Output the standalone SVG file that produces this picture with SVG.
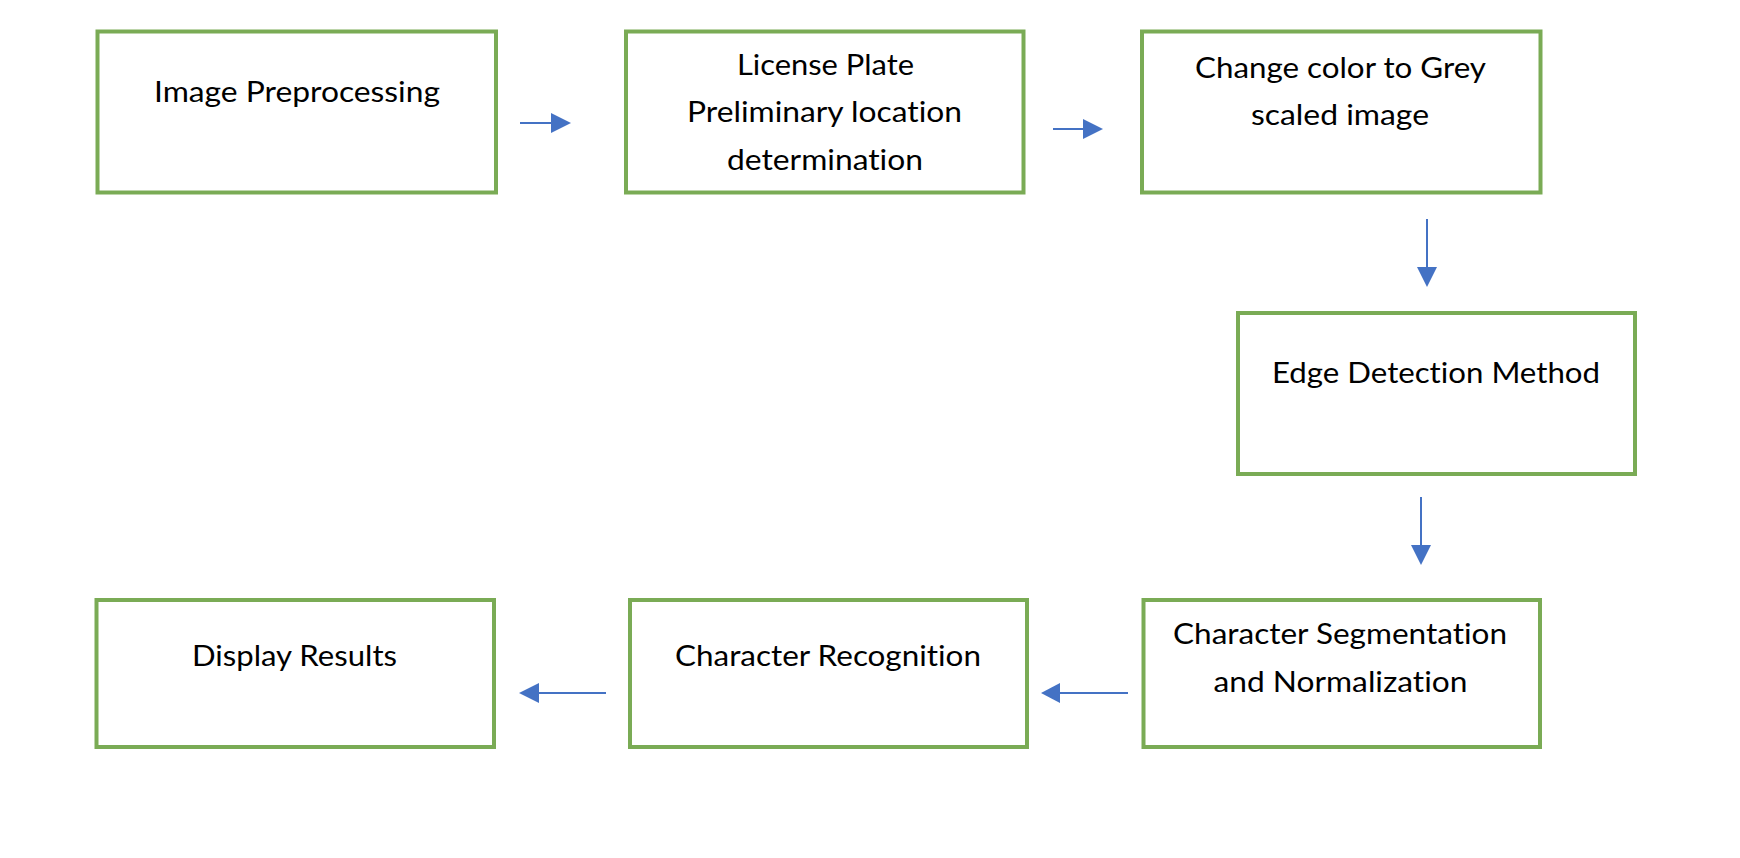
<svg xmlns="http://www.w3.org/2000/svg" width="1740" height="858" viewBox="0 0 1740 858">
<defs>
<style>
.box{fill:#ffffff;stroke:#7AAB55;stroke-width:4}
.lbl{font-family:Lato,"Liberation Sans",sans-serif;font-size:29px;fill:#000000;text-anchor:middle;font-variant-ligatures:none;font-feature-settings:"liga" 0,"clig" 0}
.conn line{stroke:#4472C4;stroke-width:2}
.conn polygon{fill:#4472C4}
</style>
</defs>
<rect width="1740" height="858" fill="#ffffff"/>
<g id="n1">
<rect class="box" x="97.5" y="31.5" width="398.5" height="161"/>
<text class="lbl" x="297" y="102" textLength="286" lengthAdjust="spacingAndGlyphs">Image Preprocessing</text>
</g>
<g id="n2">
<rect class="box" x="626" y="31.5" width="397.5" height="161"/>
<text class="lbl" x="825.5" y="75" textLength="177" lengthAdjust="spacingAndGlyphs">License Plate</text>
<text class="lbl" x="824.5" y="122" textLength="275" lengthAdjust="spacingAndGlyphs">Preliminary location</text>
<text class="lbl" x="825" y="170" textLength="196" lengthAdjust="spacingAndGlyphs">determination</text>
</g>
<g id="n3">
<rect class="box" x="1142" y="31.5" width="398.5" height="161"/>
<text class="lbl" x="1340.5" y="78" textLength="291" lengthAdjust="spacingAndGlyphs">Change color to Grey</text>
<text class="lbl" x="1340" y="125" textLength="178" lengthAdjust="spacingAndGlyphs">scaled image</text>
</g>
<g id="n4">
<rect class="box" x="1238" y="313" width="397" height="161"/>
<text class="lbl" x="1436" y="383" textLength="328" lengthAdjust="spacingAndGlyphs">Edge Detection Method</text>
</g>
<g id="n5">
<rect class="box" x="1143.5" y="600" width="396.5" height="147"/>
<text class="lbl" x="1340" y="644" textLength="334" lengthAdjust="spacingAndGlyphs">Character Segmentation</text>
<text class="lbl" x="1340.5" y="692" textLength="254" lengthAdjust="spacingAndGlyphs">and Normalization</text>
</g>
<g id="n6">
<rect class="box" x="630" y="600" width="397" height="147"/>
<text class="lbl" x="828" y="666" textLength="306" lengthAdjust="spacingAndGlyphs">Character Recognition</text>
</g>
<g id="n7">
<rect class="box" x="96.5" y="600" width="397.5" height="147"/>
<text class="lbl" x="294.5" y="666" textLength="205" lengthAdjust="spacingAndGlyphs">Display Results</text>
</g>
<g id="connectors" class="conn">
<line x1="520" y1="123" x2="552" y2="123"/>
<polygon points="551,113 571,123 551,133"/>
<line x1="1053" y1="129" x2="1084" y2="129"/>
<polygon points="1083,119 1103,129 1083,139"/>
<line x1="1427" y1="219" x2="1427" y2="268"/>
<polygon points="1417,267 1437,267 1427,287"/>
<line x1="1421" y1="497" x2="1421" y2="546"/>
<polygon points="1411,545 1431,545 1421,565"/>
<line x1="1128" y1="693" x2="1059" y2="693"/>
<polygon points="1060,683 1060,703 1041,693"/>
<line x1="606" y1="693" x2="538" y2="693"/>
<polygon points="539,683 539,703 519,693"/>
</g>
</svg>
